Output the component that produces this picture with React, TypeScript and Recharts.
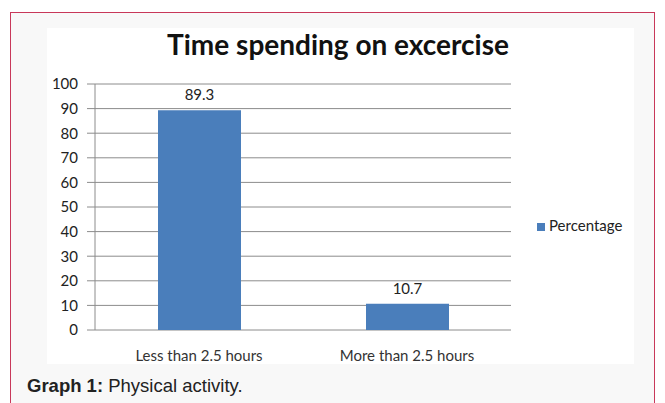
import { BarChart, Bar, XAxis, YAxis, CartesianGrid, Legend, LabelList } from 'recharts';

const categories = ['Less than 2.5 hours', 'More than 2.5 hours'];
const percentage = [89.3, 10.7];
const yTicks = [0, 10, 20, 30, 40, 50, 60, 70, 80, 90, 100];
const boundaryTicks = [0, 1, 2];

const data = categories.map((name, i) => ({ name, Percentage: percentage[i] }));

const font = 'Lato, "Open Sans", sans-serif';

const App = () => {
  return (
    <div style={{ position: 'absolute', left: 0, top: 0, width: 665, height: 403, background: '#fff' }}>
      <div
        style={{
          position: 'absolute', left: 10, top: 12, width: 645, height: 391,
          border: '1px solid #c8385a', borderBottom: 'none', background: '#f8f8f8', boxSizing: 'border-box',
        }}
      />
      <div style={{ position: 'absolute', left: 47, top: 28, width: 587, height: 336, background: '#fff' }} />
      <div
        style={{
          position: 'absolute', left: 60, top: 27, width: 556, textAlign: 'center',
          fontFamily: font, fontWeight: 700, fontSize: 28, color: '#111',
        }}
      >
        Time spending on excercise
      </div>
      <div style={{ position: 'absolute', left: 0, top: 0 }}>
        <BarChart width={665} height={403} data={data} margin={{ top: 84, right: 154, bottom: 25, left: 35 }}>
          <CartesianGrid vertical={false} stroke="#8c8c8c" />
          <XAxis
            dataKey="name"
            axisLine={false}
            tickLine={false}
            tick={{ fill: '#333', fontSize: 15, fontFamily: font }}
            tickMargin={14}
          />
          <XAxis
            xAxisId="b"
            type="number"
            domain={[0, 2]}
            ticks={boundaryTicks}
            tick={false}
            tickSize={5}
            stroke="#8c8c8c"
            height={0}
          />
          <YAxis
            domain={[0, 100]}
            ticks={yTicks}
            width={60}
            tickSize={8}
            tickMargin={9}
            stroke="#8c8c8c"
            tick={{ fill: '#222', fontSize: 15, fontFamily: font }}
          />
          <Legend
            layout="vertical"
            iconType="square"
            iconSize={8}
            wrapperStyle={{ position: 'absolute', left: 537, top: 216, width: 120, fontFamily: font, fontSize: 15 }}
            formatter={(v) => <span style={{ color: '#222' }}>{v}</span>}
          />
          <Bar dataKey="Percentage" fill="#4a7ebb" barSize={83} isAnimationActive={false}>
            <LabelList dataKey="Percentage" position="top" offset={10} fill="#222" fontSize={15} fontFamily={font} />
          </Bar>
        </BarChart>
      </div>
      <div style={{ position: 'absolute', left: 27, top: 375, fontFamily: 'Arial, "Liberation Sans", sans-serif', fontSize: 18.5, color: '#222' }}>
        <b>Graph 1:</b> Physical activity.
      </div>
    </div>
  );
};

export default App;
